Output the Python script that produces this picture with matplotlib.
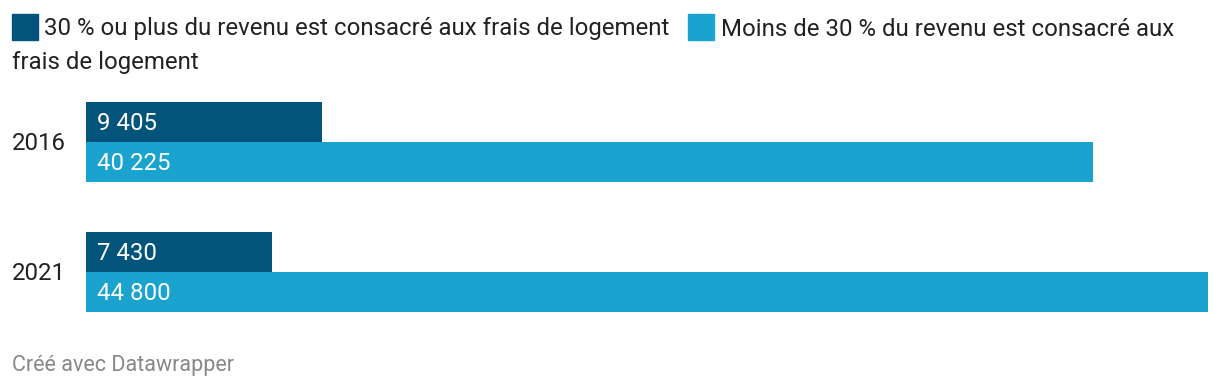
import matplotlib
matplotlib.use("Agg")
import matplotlib.pyplot as plt
import matplotlib.patches as mpatches

plt.rcParams['font.family'] = ['Roboto', 'DejaVu Sans']

years = ['2016', '2021']
plus30 = [9405, 7430]
moins30 = [40225, 44800]
labels = ['30 % ou plus du revenu est consacré aux frais de logement',
          'Moins de 30 % du revenu est consacré aux frais de logement']
dark = '#03547b'
light = '#1aa3cf'
fs = 17.25

W, H = 1220, 390
fig = plt.figure(figsize=(W / 100, H / 100), dpi=100)

def px(x, y):
    # pixel (from top-left) -> figure fraction
    return x / W, 1 - y / H

# legend, wrapped like the original
fig.patches.append(mpatches.Rectangle(px(12, 40), 26 / W, 26 / H, color=dark,
                                      transform=fig.transFigure, figure=fig))
fig.text(*px(44, 29), labels[0], fontsize=fs, color='#222222', va='center')
fig.patches.append(mpatches.Rectangle(px(688, 40), 26 / W, 26 / H, color=light,
                                      transform=fig.transFigure, figure=fig))
fig.text(*px(721, 29), 'Moins de 30 % du revenu est consacré aux', fontsize=fs,
         color='#222222', va='center')
fig.text(*px(12, 63), 'frais de logement', fontsize=fs, color='#222222', va='center')

# bars
x0, y0 = px(86, 312)
x1, y1 = px(1208, 102)
ax = fig.add_axes([x0, y0, x1 - x0, y1 - y0])
pos = list(range(len(years)))
off = 20 / 130
h = 40 / 130
ax.barh([p - off for p in pos], plus30, height=h, color=dark)
ax.barh([p + off for p in pos], moins30, height=h, color=light)
ax.set_xlim(0, max(moins30))
ax.set_ylim(1 + 40 / 130, -40 / 130)
ax.axis('off')

def fmt(v):
    return f'{v:,}'.replace(',', ' ')

dy = 2 / 130
for p, a, b in zip(pos, plus30, moins30):
    ax.text(max(moins30) * 11 / 1122, p - off + dy, fmt(a), color='white', fontsize=fs, va='center')
    ax.text(max(moins30) * 11 / 1122, p + off + dy, fmt(b), color='white', fontsize=fs, va='center')
    ax.text(-max(moins30) * 74 / 1122, p + dy, years[p], color='#222222',
            fontsize=fs, va='center', ha='left')

fig.text(*px(12, 365), 'Créé avec Datawrapper', fontsize=15.5, color='#888888', va='center')

fig.savefig('out.png', dpi=100)
